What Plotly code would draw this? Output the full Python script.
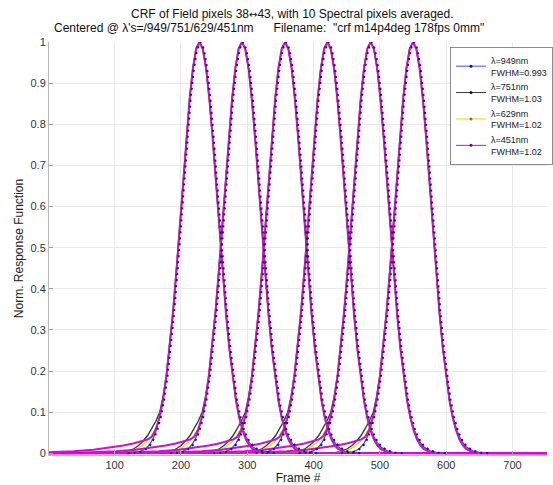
import plotly.graph_objects as go

# ---------------- data ----------------
pixel_ids = [38, 39, 40, 41, 42, 43]
peak_frames = [228, 292, 357, 421, 486, 550]          # frame # of each CRF peak

wavelengths = ["949", "751", "629", "451"]
fwhm_labels = ["0.993", "1.03", "1.02", "1.02"]

# CRF profile: offset in frames from the peak, and normalized response
off_949 = [-600, -110, -100, -90, -85, -80, -75, -70, -65, -60, -55, -50, -45, -40, -35, -30,
           -25, -20, -15, -10, -5, 0, 5, 10, 15, 20, 25, 30, 35, 40, 45, 50, 55, 60, 65, 70,
           75, 80, 85, 90, 100, 112, 600]
val_949 = [0, 0.0003, 0.0012, 0.0042, 0.0076, 0.013, 0.022, 0.036, 0.058, 0.088, 0.130, 0.185,
           0.255, 0.339, 0.437, 0.544, 0.656, 0.763, 0.859, 0.935, 0.983, 1.0, 0.983, 0.935,
           0.859, 0.763, 0.656, 0.544, 0.437, 0.339, 0.255, 0.185, 0.130, 0.090, 0.061, 0.040,
           0.026, 0.016, 0.010, 0.006, 0.002, 0.0005, 0]

off_751 = [-600, -120, -110, -100, -92, -85, -78, -72, -66, -60, -55, -50, -45, -40, -35, -30,
           -25, -20, -15, -10, -5, 0, 5, 10, 15, 20, 25, 30, 35, 40, 45, 50, 55, 60, 65, 70,
           75, 80, 90, 100, 600]
val_751 = [0, 0.001, 0.004, 0.010, 0.019, 0.030, 0.044, 0.060, 0.078, 0.100, 0.137, 0.190,
           0.262, 0.346, 0.445, 0.552, 0.662, 0.768, 0.862, 0.937, 0.984, 1.0, 0.983, 0.935,
           0.858, 0.762, 0.655, 0.543, 0.436, 0.338, 0.254, 0.184, 0.128, 0.086, 0.056, 0.034,
           0.020, 0.011, 0.003, 0.001, 0]

off_629 = [-600, -115, -105, -95, -88, -80, -74, -68, -62, -56, -50, -45, -40, -35, -30,
           -25, -20, -15, -10, -5, 0, 5, 10, 15, 20, 25, 30, 35, 40, 45, 50, 55, 60, 65, 70,
           75, 80, 90, 100, 600]
val_629 = [0, 0.001, 0.004, 0.010, 0.017, 0.028, 0.040, 0.055, 0.078, 0.115, 0.188,
           0.260, 0.344, 0.443, 0.550, 0.660, 0.766, 0.861, 0.936, 0.984, 1.0, 0.983, 0.935,
           0.858, 0.762, 0.655, 0.543, 0.436, 0.338, 0.254, 0.184, 0.128, 0.086, 0.056, 0.034,
           0.020, 0.011, 0.003, 0.001, 0]

off_451 = [-600, -260, -220, -190, -160, -135, -115, -100, -88, -78, -72, -66, -60, -55, -50,
           -45, -40, -35, -30, -25, -20, -15, -10, -5, 0, 5, 10, 15, 20, 25, 30, 35, 40, 45,
           50, 55, 60, 65, 70, 75, 80, 90, 100, 600]
val_451 = [0, 0.001, 0.003, 0.005, 0.009, 0.014, 0.019, 0.024, 0.029, 0.034, 0.040, 0.058,
           0.090, 0.132, 0.187, 0.258, 0.342, 0.440, 0.547, 0.659, 0.765, 0.860, 0.936, 0.984,
           1.0, 0.983, 0.935, 0.858, 0.762, 0.655, 0.543, 0.436, 0.338, 0.254, 0.184, 0.128,
           0.086, 0.056, 0.034, 0.020, 0.011, 0.003, 0.001, 0]

profiles = {"949": (off_949, val_949), "751": (off_751, val_751),
            "629": (off_629, val_629), "451": (off_451, val_451)}

# ---------------- styles ----------------
line_colors = {"949": "#4646ff", "751": "#3a3a3a", "629": "#dede00", "451": "#cc10cc"}
dot_colors = {"949": "#12127a", "751": "#1a1a1a", "629": "#7a7a30", "451": "#6a0a6a"}
line_widths = {"949": 1.3, "751": 1.4, "629": 1.4, "451": 2.0}
FONT = "Liberation Sans, Arial, sans-serif"

fig = go.Figure()

# legend entries (line with a dot, like the original)
for wl, fw in zip(wavelengths, fwhm_labels):
    fig.add_trace(go.Scatter(
        x=[None], y=[None], mode="lines+markers", name=f"λ={wl}nm<br>FWHM={fw}",
        line=dict(color=line_colors[wl], width=1),
        marker=dict(color=dot_colors[wl], size=3)))

# response curves, one per field pixel and wavelength
for wl in wavelengths:
    offs, vals = profiles[wl]
    for pid, pk in zip(pixel_ids, peak_frames):
        fig.add_trace(go.Scatter(
            x=[pk + o for o in offs], y=vals, mode="lines", showlegend=False,
            line=dict(color=line_colors[wl], width=line_widths[wl]),
            name=f"pix {pid} λ={wl}", hoverinfo="skip"))

# dotted (marker) look of the 949 nm curves
offs, vals = profiles["949"]
for pk in peak_frames:
    fig.add_trace(go.Scatter(
        x=[pk + 1.5 + o for o in offs[1:-1]], y=vals[1:-1], mode="lines", showlegend=False,
        line=dict(color=dot_colors["949"], width=2, dash="2px,4px"), hoverinfo="skip"))

axis_common = dict(showgrid=True, gridcolor="#e9e9e9", gridwidth=1, zeroline=False,
                   showline=True, linecolor="#b8b8b8", linewidth=1,
                   ticks="inside", ticklen=4, tickcolor="#a0a0a0",
                   tickfont=dict(family=FONT, size=11, color="#333333"))

NB = "\u00a0"
fig.update_layout(
    width=553, height=485,
    margin=dict(l=49, r=0, t=42, b=30),
    paper_bgcolor="white", plot_bgcolor="white",
    font=dict(family=FONT, color="#222222"),
    xaxis=dict(range=[1, 752], tickvals=[100, 200, 300, 400, 500, 600, 700],
               title=dict(text="Frame #", font=dict(family=FONT, size=12, color="#222"),
                          standoff=2),
               **axis_common),
    yaxis=dict(range=[-0.004, 1.0], tickvals=[0, 0.1, 0.2, 0.3, 0.4, 0.5, 0.6, 0.7, 0.8, 0.9, 1],
               ticktext=["0", "0.1", "0.2", "0.3", "0.4", "0.5", "0.6", "0.7", "0.8", "0.9", "1"],
               title=dict(text="Norm. Response Function", font=dict(family=FONT, size=12, color="#222"),
                          standoff=4),
               **axis_common),
    legend=dict(x=0.806, y=0.988, xanchor="left", yanchor="top",
                bgcolor="white", bordercolor="#8c8c8c", borderwidth=1,
                font=dict(family=FONT, size=9, color="#222"), itemwidth=30,
                tracegroupgap=0),
    showlegend=True,
    annotations=[
        dict(text="CRF of Field pixels 38<span style='font-family:DejaVu Sans;font-size:10px'>↔</span>43,"
                  " with 10 Spectral pixels averaged.",
             xref="paper", yref="paper", x=0.488, y=1.068, xanchor="center", yanchor="middle",
             showarrow=False, font=dict(family=FONT, size=12, color="#111")),
        dict(text="Centered @ λ's=/949/751/629/451nm" + NB * 6 +
                  "Filename:" + NB * 2 + "\"crf m14p4deg 178fps 0mm\"",
             xref="paper", yref="paper", x=0.441, y=1.034, xanchor="center", yanchor="middle",
             showarrow=False, font=dict(family=FONT, size=12, color="#111")),
    ],
)

fig.write_html("out.html")
